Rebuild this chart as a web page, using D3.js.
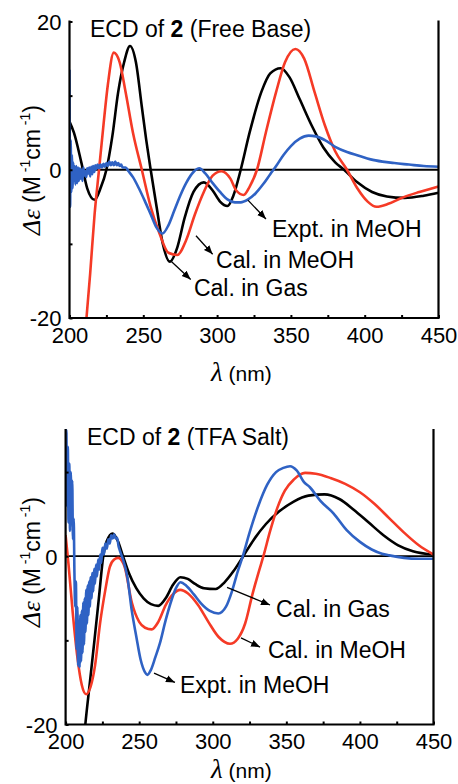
<!DOCTYPE html>
<html><head><meta charset="utf-8">
<script src="https://cdn.jsdelivr.net/npm/d3@7/dist/d3.min.js"></script>
<style>
html,body{margin:0;padding:0;background:#fff;}
svg{display:block;}
text{font-family:"Liberation Sans",Arial,Helvetica,sans-serif;fill:#000;}
</style></head>
<body>
<svg id="c" width="458" height="784"></svg>
<script>
// ---------- DATA ----------
const xTicks = [200,225,250,275,300,325,350,375,400,425,450];
const xTickLabels = [200,250,300,350,400,450];
const yTicksTop = [-20,-10,0,10,20];
const yTickLabelsTop = [-20,0,20];
const yTicksBot = [-20,-10,0,10];
const yTickLabelsBot = [-20,0];

// Panel 1: free base  [wavelength nm, Δε]
const fbGas = [[200,6.5],[203,5],[208,1],[212,-2.5],[217,-4.05],[221,-2.5],[225,0],[229,4.5],[233,10.5],[237,14.5],[241,16.7],[245,14.5],[249,8.5],[252,4],[255,0],[259,-5],[263,-9.8],[268,-12.4],[273,-10.5],[278,-6.5],[284,-3],[291,-1.7],[297,-2.8],[302,-4.3],[307,-4.9],[311,-3.5],[316,0],[322,5],[330,10.5],[336,13],[343,13.7],[349,12.5],[356,9.5],[364,6],[372,3],[380,1],[386,0],[395,-1.7],[405,-3],[415,-3.6],[427,-3.8],[440,-3.5],[450,-3.1]];
const fbMeOH = [[208,-27],[211.5,-20],[214,-14],[217,-6],[220,0],[223,6],[226,11.5],[230,15.8],[234,14.5],[238,10.5],[243,5],[249,0],[255,-5],[261,-8.6],[267,-11.2],[273,-11.5],[279,-9.5],[285,-6],[291,-3],[297,-0.8],[303,-0.2],[309,-1.2],[313,-2.8],[318,-3.4],[322,-2.3],[327,0],[333,5],[340,10.5],[346,14.5],[353,16.3],[359,15],[366,10.5],[373,6],[380,2.5],[388,0],[395,-2.5],[402,-4.3],[408,-5],[416,-4.6],[425,-3.8],[437,-3],[450,-2.25]];
const fbExpt = [[200,13.5],[200.4,-5],[200.8,4],[201.2,-3],[201.6,2],[202,-2.5],[202.5,1],[203,-1.5],[203.5,0.5],[204,-2],[204.6,0.5],[205.2,-1.8],[205.8,0.3],[206.4,-1.5],[207,0.2],[207.6,-1.2],[208.2,0],[208.8,-1.5],[209.4,0.3],[210,-0.8],[210.7,-0.2],[211.4,-1],[212,0.2],[212.7,-0.5],[213.4,0.3],[214,-0.9],[214.7,0.4],[215.4,-0.6],[216,0.5],[216.8,-0.3],[217.5,0.6],[218.3,0.1],[219,0.7],[220,0.2],[221,0.7],[222,0.3],[223,0.8],[224,0.4],[225,0.9],[226,0.5],[227,1.1],[228,0.6],[229,1],[230,0.6],[231,1.1],[232,0.6],[233,0.9],[234,0.5],[235,0.7],[236,0.3],[238,0.3],[240,-0.2],[243,-1],[247,-2.5],[251,-4.2],[255,-6],[259,-7.8],[263,-8.6],[267,-7.5],[271,-5.5],[275,-3.5],[279,-1.8],[284,-0.3],[288,0.2],[292,-0.5],[297,-1.8],[302,-3],[307,-4],[312,-4.4],[316,-4.4],[321,-4],[326,-3.2],[331,-2],[336,-0.6],[340,0.5],[345,2],[350,3.2],[356,4.2],[362,4.6],[367,4.5],[373,4],[380,3.1],[388,2.4],[396,1.9],[404,1.4],[412,1.1],[420,0.9],[430,0.7],[440,0.5],[450,0.4]];

// Panel 2: TFA salt
const tfaGas = [[210,-27],[213.4,-20],[216.5,-15],[219.6,-10],[222.6,-5],[225.6,0],[228,1.8],[232,2.7],[235.5,1.8],[239,0],[243,-2],[248,-3.8],[253,-5],[258,-5.7],[263,-5.9],[268,-5],[273,-3.4],[278,-2.5],[283,-2.7],[288,-3.3],[294,-3.8],[302,-3.9],[308,-3.1],[314,-1.8],[320.7,0],[328,2],[336,3.8],[345,5.3],[355,6.5],[365,7.2],[376,7.35],[386,6.8],[396,5.5],[406,4],[416,2.5],[426,1.3],[436,0.6],[450,0.2]];
const tfaMeOH = [[200,2.5],[202,-1],[205,-7],[208,-12],[211,-15.3],[214,-16.4],[217,-15.5],[220,-13],[223.4,-8],[227,-4],[230,-1.3],[233,-0.4],[235.8,-0.2],[240,-1.2],[245,-5.5],[250,-7.8],[254,-8.5],[258.5,-8.7],[263,-7.8],[268,-5.8],[273,-4.5],[278,-4],[283,-4.4],[290,-5.8],[297,-7.8],[304,-9.6],[311.7,-10.4],[317,-9.8],[322,-8],[327,-4.5],[331,-2],[334.4,0],[339,3],[344,5.8],[349,7.8],[355,9.1],[362.7,9.9],[370,9.8],[380,9.3],[390,8.6],[400,7.6],[410,6.2],[420,4.5],[430,2.8],[440,1.3],[450,0.2]];
const tfaExpt = [[200,14],[200.5,15],[201,6],[201.5,13],[202,4],[202.5,11],[203,3],[203.5,10],[204,5],[204.5,9],[205,2],[205.5,4.5],[206,-2],[206.5,-6],[207,-3],[207.5,-11],[208,-6],[208.5,-13],[209,-8],[209.5,-13.2],[210,-7],[210.5,-12.5],[211,-6.5],[211.5,-11.5],[212,-5.5],[212.5,-10.5],[213,-5],[213.5,-9],[214,-4],[214.5,-8],[215,-3.5],[215.5,-7],[216,-3],[216.5,-6],[217,-2.5],[217.6,-5],[218.2,-2],[218.8,-4.2],[219.4,-1.5],[220,-3.3],[220.7,-1],[221.4,-2.4],[222.1,-0.4],[222.8,-1.6],[223.5,0.2],[224.2,-0.8],[225,1],[226,0.2],[227,1.5],[228,0.9],[229,2],[230,1.5],[231,2.5],[232,2.1],[233,2.6],[234,2.1],[235,2.2],[236,1.2],[237,0.6],[239,-0.4],[242,-2.5],[245,-6.5],[248,-9.5],[251,-12.3],[254,-13.8],[255.5,-14.1],[258,-13.5],[261,-12],[264,-10.4],[268,-7.6],[272,-5.2],[275,-3.8],[278,-3.1],[282,-3.5],[287,-4.5],[292,-5.6],[298,-6.5],[303.8,-6.8],[309,-6],[313,-4.2],[317,-1.8],[320.4,0],[325,2.8],[331,6],[337,8.5],[343,10],[348,10.5],[352.5,10.7],[357,10.2],[362,8.8],[366,8.2],[373,6.6],[382,5.1],[391,3.1],[400,1.7],[408,0.8],[415,0.3],[420,0.1],[430,-0.2],[440,-0.3],[450,-0.3]];

// annotations: [label, lineStart(nm,Δε), tip(nm,Δε), textStart(nm,Δε baseline)]
const notesTop = [
  ["Expt. in MeOH",[320.9,-4.1],[333.1,-6.65],[337.2,-9.1]],
  ["Cal. in MeOH",[285.7,-8.9],[297.0,-11.4],[299.3,-13.2]],
  ["Cal. in Gas",[269.2,-12.4],[282.1,-14.8],[284.3,-17.0]]
];
const notesBot = [
  ["Cal. in Gas",[309.7,-3.7],[338.9,-5.8],[343.0,-7.2]],
  ["Cal. in MeOH",[319.2,-9.7],[332.1,-10.8],[337.5,-12.15]],
  ["Expt. in MeOH",[260.1,-13.9],[274.3,-15.0],[277.7,-16.3]]
];

const COL = {gas:"#000000", meoh:"#f53a26", expt:"#2f62c4"};

const svg = d3.select("#c");
const defs = svg.append("defs");
defs.append("marker").attr("id","ah").attr("viewBox","0 0 10 10")
  .attr("refX",10).attr("refY",5).attr("markerWidth",9).attr("markerHeight",9)
  .attr("markerUnits","userSpaceOnUse").attr("orient","auto")
  .append("path").attr("d","M0,1 L10,5 L0,9 Z").attr("fill","#000");

function panel(cfg){
  const x = d3.scaleLinear().domain([200,450]).range(cfg.xr);
  const y = d3.scaleLinear().domain(cfg.yd).range(cfg.yr);
  const g = svg.append("g");
  const id = "clip"+cfg.id;
  defs.append("clipPath").attr("id",id).append("rect")
    .attr("x",x(200)).attr("y",y(cfg.yd[1])-1)
    .attr("width",x(450)-x(200)).attr("height",y(-20)-y(cfg.yd[1])+1);

  g.append("line").attr("x1",x(200)).attr("x2",x(450)).attr("y1",y(0)).attr("y2",y(0))
    .attr("stroke","#000").attr("stroke-width",1.8);

  const line = d3.line().x(d=>x(d[0])).y(d=>y(d[1])).curve(d3.curveMonotoneX);
  const cg = g.append("g").attr("clip-path",`url(#${id})`);
  cfg.series.forEach(s=>{
    cg.append("path").datum(s.data).attr("d",line)
      .attr("fill","none").attr("stroke",s.color)
      .attr("stroke-width",s.w).attr("stroke-linejoin","round");
  });

  const xa = d3.axisBottom(x).tickValues(xTicks).tickSize(-3).tickPadding(9)
    .tickFormat(d=>xTickLabels.includes(d)?String(d):"");
  const gx = g.append("g").attr("transform",`translate(0,${y(-20)})`).call(xa);
  const ya = d3.axisLeft(y).tickValues(cfg.yTicks).tickSize(-3).tickPadding(8)
    .tickFormat(d=>cfg.yLabels.includes(d)?String(d):"");
  const gy = g.append("g").attr("transform",`translate(${x(200)},0)`).call(ya);
  [gx,gy].forEach(a=>{
    a.select(".domain").remove();
    a.selectAll(".tick line").attr("stroke","#000").attr("stroke-width",2);
    a.selectAll(".tick text").attr("font-size",22).attr("fill","#000")
      .style("font-family",'"Liberation Sans",Arial,sans-serif');
  });
  gy.selectAll(".tick text").attr("dy","0.36em");

  const top = y(cfg.yd[1]);
  g.append("path").attr("d",
    `M${x(200)},${top} L${x(200)},${y(-20)} L${x(450)},${y(-20)} L${x(450)},${top}`)
    .attr("fill","none").attr("stroke","#000").attr("stroke-width",2.2)
    .attr("stroke-linecap","square");

  const t = g.append("text").attr("x",cfg.titleX).attr("y",cfg.titleY).attr("font-size",23);
  t.append("tspan").text("ECD of ");
  t.append("tspan").attr("font-weight","bold").text("2");
  t.append("tspan").text(" "+cfg.titleTail);

  cfg.notes.forEach(n=>{
    g.append("line").attr("x1",x(n[1][0])).attr("y1",y(n[1][1]))
      .attr("x2",x(n[2][0])).attr("y2",y(n[2][1]))
      .attr("stroke","#000").attr("stroke-width",1.3).attr("marker-end","url(#ah)");
    g.append("text").attr("x",x(n[3][0])).attr("y",y(n[3][1])).attr("font-size",23).text(n[0]);
  });

  const yt = g.append("text")
    .attr("transform",`translate(${cfg.yTitleX},${cfg.yTitleY}) rotate(-90)`)
    .attr("text-anchor","middle").attr("font-size",23);
  yt.append("tspan").attr("font-style","italic").style("font-family",'"Liberation Serif","Times New Roman",serif').attr("font-size",26).text("Δε");
  yt.append("tspan").text(" (M");
  yt.append("tspan").attr("font-size",14).attr("dy",-10).text(" -1");
  yt.append("tspan").attr("dy",10).text("cm");
  yt.append("tspan").attr("font-size",14).attr("dy",-10).text(" -1");
  yt.append("tspan").attr("dy",10).text(")");

  const xt = g.append("text").attr("x",cfg.xTitleX).attr("y",cfg.xTitleY).attr("font-size",21);
  xt.append("tspan").attr("font-style","italic").style("font-family",'"Liberation Serif","Times New Roman",serif').attr("font-size",27).text("λ");
  xt.append("tspan").text(" (nm)");
}

panel({id:1, xr:[69.5,438.5], yd:[-20,20], yr:[318,21.5],
  yTicks:yTicksTop, yLabels:yTickLabelsTop,
  series:[{data:fbGas,color:COL.gas,w:2.6},{data:fbMeOH,color:COL.meoh,w:2.6},{data:fbExpt,color:COL.expt,w:2.6}],
  notes:notesTop, titleX:90, titleY:37, titleTail:"(Free Base)",
  yTitleX:40, yTitleY:170, xTitleX:211, xTitleY:381});

panel({id:2, xr:[65.6,433.5], yd:[-20,15], yr:[724.5,430],
  yTicks:yTicksBot, yLabels:yTickLabelsBot,
  series:[{data:tfaGas,color:COL.gas,w:2.6},{data:tfaMeOH,color:COL.meoh,w:2.6},{data:tfaExpt,color:COL.expt,w:2.6}],
  notes:notesBot, titleX:87, titleY:445, titleTail:"(TFA Salt)",
  yTitleX:40, yTitleY:562, xTitleX:211, xTitleY:778});
</script>
</body></html>
